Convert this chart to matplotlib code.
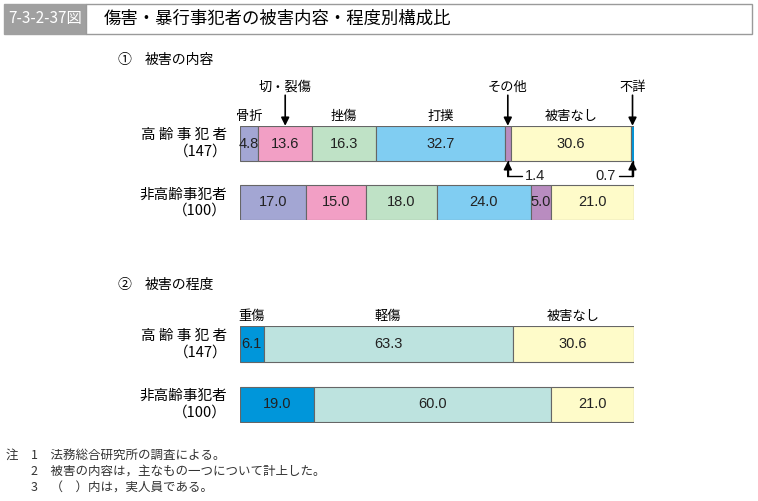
import matplotlib
matplotlib.use("Agg")
import matplotlib.pyplot as plt
from matplotlib.patches import Rectangle
import numpy as np

plt.rcParams['font.family'] = ['Noto Sans CJK JP', 'DejaVu Sans']

# ---- data ----
rows = ['高 齢 事 犯 者\n（147）', '非高齢事犯者\n（100）']

naiyou_cats = ['骨折', '切・裂傷', '挫傷', '打撲', 'その他', '被害なし', '不詳']
naiyou_old = [4.8, 13.6, 16.3, 32.7, 1.4, 30.6, 0.7]
naiyou_young = [17.0, 15.0, 18.0, 24.0, 5.0, 21.0, 0.0]
naiyou_colors = ['#a3a6d3', '#f29fc5', '#bfe2c6', '#80cdf2', '#b98cc0', '#fefbc9', '#0096da']

teido_cats = ['重傷', '軽傷', '被害なし']
teido_old = [6.1, 63.3, 30.6]
teido_young = [19.0, 60.0, 21.0]
teido_colors = ['#0096da', '#bde3df', '#fefbc9']

notes = ['注　1　法務総合研究所の調査による。',
         '　　2　被害の内容は，主なもの一つについて計上した。',
         '　　3　（　）内は，実人員である。']

W, H = 758, 501
fig = plt.figure(figsize=(W / 100, H / 100), dpi=100)
NUMFONT = ['Liberation Sans', 'DejaVu Sans']


def fx(x):
    return x / W


def fy(y):
    return 1 - y / H


def make_ax(top, bottom):
    left, right = 239.5, 633.5
    ax = fig.add_axes([fx(left), fy(bottom), fx(right - left), (bottom - top) / H])
    ax.set_xlim(0, 100)
    ax.set_ylim(1.3, -0.3)
    ax.axis('off')
    return ax


def draw_row(ax, y, vals, colors, small=()):
    lefts = np.concatenate([[0], np.cumsum(vals)[:-1]])
    for i, (l, v, c) in enumerate(zip(lefts, vals, colors)):
        if v <= 0:
            continue
        ax.barh(y, v, left=l, height=0.59, color=c, edgecolor='#666666', linewidth=0.8)
        if i in small:
            continue
        ax.text(l + v / 2, y, f'{v:.1f}', ha='center', va='center',
                fontsize=10.5, family=NUMFONT, color='#222222')
    return lefts


# title
fig.patches.append(Rectangle((fx(4), fy(34)), fx(82), (30) / H, transform=fig.transFigure,
                             facecolor='#a0a0a0', edgecolor='#a0a0a0'))
fig.patches.append(Rectangle((fx(86), fy(34)), fx(666), (30) / H, transform=fig.transFigure,
                             facecolor='white', edgecolor='#9a9a9a', linewidth=1))
fig.text(fx(45), fy(19), '7-3-2-37図', color='white', fontsize=11, ha='center', va='center')
fig.text(fx(104), fy(19), '傷害・暴行事犯者の被害内容・程度別構成比', fontsize=12.5,
         ha='left', va='center')

# section headers
fig.text(fx(118), fy(60), '①', fontsize=10, ha='left', va='center')
fig.text(fx(145), fy(60), '被害の内容', fontsize=10, ha='left', va='center')
fig.text(fx(118), fy(285), '②', fontsize=10, ha='left', va='center')
fig.text(fx(145), fy(285), '被害の程度', fontsize=10, ha='left', va='center')

# ---- panel 1 ----
ax1 = make_ax(125.8, 220.2)
lefts = draw_row(ax1, 0, naiyou_old, naiyou_colors, small=(4, 6))
draw_row(ax1, 1, naiyou_young, naiyou_colors)
centers = lefts + np.array(naiyou_old) / 2
for i in (0, 2, 3, 5):
    ax1.annotate(naiyou_cats[i], (centers[i], -0.3), xytext=(0, 2), textcoords='offset points',
                 ha='center', va='bottom', fontsize=9.5)
for i in (1, 4, 6):
    ax1.annotate('', xy=(centers[i], -0.3), xytext=(0, 22), textcoords='offset points',
                 arrowprops=dict(arrowstyle='-|>', color='black', lw=1.2, mutation_scale=12,
                                 shrinkA=0, shrinkB=0))
    ax1.annotate(naiyou_cats[i], (centers[i], -0.3), xytext=(0, 23), textcoords='offset points',
                 ha='center', va='bottom', fontsize=9.5)
# small values below bar
for i, side in ((4, 1), (6, -1)):
    x0 = centers[i]
    ax1.annotate('', xy=(x0, 0.3), xytext=(0, -11), textcoords='offset points',
                 arrowprops=dict(arrowstyle='-|>', color='black', lw=1.2, mutation_scale=12,
                                 shrinkA=0, shrinkB=0))
    ax1.annotate('', xy=(x0, 0.3), xytext=(side * 10, -11), textcoords='offset points',
                 arrowprops=dict(arrowstyle='-', color='black', lw=1.0, shrinkA=0, shrinkB=0,
                                 connectionstyle='angle,angleA=0,angleB=90,rad=0'))
    ax1.annotate(f'{naiyou_old[i]:.1f}', (x0, 0.3), xytext=(side * 12, -11),
                 textcoords='offset points', ha='left' if side > 0 else 'right', va='center',
                 fontsize=10.5, family=NUMFONT, color='#222222')

# ---- panel 2 ----
ax2 = make_ax(326.0, 422.5)
lefts2 = draw_row(ax2, 0, teido_old, teido_colors)
draw_row(ax2, 1, teido_young, teido_colors)
centers2 = lefts2 + np.array(teido_old) / 2
for i, c in enumerate(teido_cats):
    ax2.annotate(c, (centers2[i], -0.3), xytext=(0, 2), textcoords='offset points',
                 ha='center', va='bottom', fontsize=9.5)

# row labels
for ax in (ax1, ax2):
    for j, r in enumerate(rows):
        ax.annotate(r, (0, j), xytext=(-9, 0), textcoords='offset points',
                    ha='right', va='center', fontsize=10.5, linespacing=1.2)

# notes
for k, n in enumerate(notes):
    fig.text(fx(6), fy(455 + k * 16.5), n, fontsize=9, ha='left', va='center', color='#333333')

fig.savefig('out.png', dpi=100)
